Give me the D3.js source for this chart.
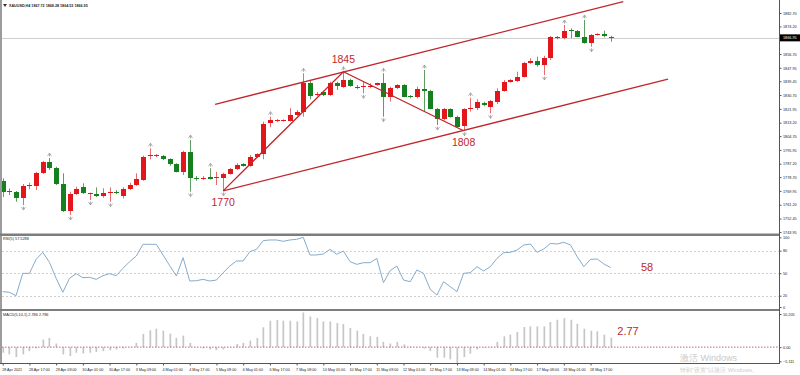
<!DOCTYPE html>
<html><head><meta charset="utf-8">
<script src="https://cdn.jsdelivr.net/npm/d3@7"></script>
<style>
html,body{margin:0;padding:0;background:#fff;overflow:hidden}
svg{display:block}
text{font-family:"Liberation Sans",Arial,sans-serif}
</style>
</head><body>
<svg id="c" width="800" height="375"></svg>
<script>
// ---------------- DATA ----------------
const symbolHeader = "XAUUSD,H4 1867.72 1868.28 1864.53 1866.95";
const opens  = [1776.4,1769.6,1769.1,1765.7,1773.5,1773.1,1781.1,1788.5,1784.7,1774.2,1757.2,1767.8,1772.2,1768.3,1768.0,1766.9,1768.4,1769.5,1766.9,1771.0,1773.7,1776.9,1792.2,1792.2,1792.1,1790.0,1786.8,1782.1,1794.4,1778.0,1778.2,1778.6,1778.1,1777.9,1780.7,1783.6,1786.8,1785.9,1791.6,1793.2,1812.8,1814.3,1814.3,1814.5,1818.1,1820.2,1838.2,1831.2,1832.5,1830.7,1838.5,1836.0,1840.2,1836.1,1835.6,1836.5,1837.1,1838.2,1829.7,1835.0,1837.1,1830.1,1829.3,1834.5,1833.5,1822.0,1815.3,1821.7,1817.0,1811.1,1821.7,1822.3,1825.9,1823.3,1826.5,1833.5,1839.0,1839.4,1842.3,1851.2,1852.5,1849.8,1854.0,1867.4,1866.7,1871.9,1871.3,1867.7,1863.9,1868.8,1869.6,1867.72];
const highs  = [1777.9,1771.5,1769.9,1774.3,1775.2,1782.1,1789.0,1790.8,1785.3,1781.1,1769.5,1772.6,1774.8,1768.9,1772.2,1771.6,1772.2,1770.5,1772.2,1775.2,1781.1,1792.3,1797.0,1793.3,1792.8,1790.6,1787.5,1795.4,1802.2,1779.4,1779.4,1784.3,1782.1,1781.5,1784.5,1787.5,1787.5,1792.7,1793.8,1813.8,1817.0,1815.5,1815.3,1822.3,1821.2,1844.5,1840.2,1832.6,1833.1,1839.2,1839.2,1845.5,1841.0,1837.1,1839.2,1838.2,1838.5,1844.5,1836.0,1837.6,1837.6,1830.7,1836.0,1846.6,1834.0,1822.5,1822.6,1822.3,1817.6,1822.3,1829.0,1828.0,1826.5,1827.6,1835.0,1840.2,1840.8,1845.5,1851.8,1854.0,1855.0,1855.6,1868.1,1868.1,1875.1,1873.0,1871.9,1878.3,1869.4,1869.9,1871.5,1868.28];
const lows   = [1766.1,1767.4,1763.1,1761.0,1771.0,1770.5,1780.7,1783.2,1773.7,1756.6,1754.7,1767.4,1768.0,1764.2,1766.1,1765.7,1763.1,1768.0,1765.2,1770.5,1773.1,1776.4,1790.0,1791.3,1789.5,1785.9,1781.7,1780.0,1769.5,1776.4,1776.9,1777.2,1773.7,1770.0,1780.2,1783.2,1785.3,1785.3,1791.0,1790.0,1810.3,1813.6,1813.9,1813.9,1817.4,1817.0,1828.0,1830.1,1830.1,1830.1,1833.9,1835.3,1836.0,1834.4,1831.8,1835.0,1836.6,1817.0,1826.5,1834.5,1829.3,1828.7,1828.6,1820.2,1821.7,1811.7,1814.6,1816.5,1810.0,1808.1,1820.2,1821.2,1823.6,1819.1,1825.0,1832.8,1838.5,1839.0,1841.9,1850.4,1848.7,1843.4,1852.9,1866.0,1866.0,1866.7,1867.3,1863.3,1861.3,1868.5,1867.3,1864.53];
const closes = [1769.5,1769.4,1765.7,1773.3,1773.8,1781.1,1788.5,1784.7,1774.2,1757.2,1767.8,1771.2,1768.4,1768.6,1766.7,1768.7,1769.3,1768.8,1771.2,1773.7,1777.3,1791.6,1792.5,1792.6,1790.0,1786.8,1782.1,1794.4,1778.0,1777.9,1778.4,1777.7,1778.5,1780.7,1783.8,1786.4,1785.9,1791.6,1793.2,1812.4,1814.9,1814.6,1814.6,1818.1,1820.2,1838.2,1830.1,1831.5,1830.7,1838.5,1836.6,1840.2,1836.6,1835.9,1836.4,1836.7,1838.2,1829.7,1835.0,1837.1,1829.7,1829.3,1834.5,1833.5,1822.0,1815.3,1822.0,1817.0,1810.6,1821.7,1822.3,1826.5,1824.2,1826.9,1833.5,1839.2,1840.2,1842.3,1851.2,1852.5,1849.9,1854.0,1867.3,1867.1,1871.5,1871.3,1867.7,1863.9,1868.8,1869.4,1868.1,1866.95];
const fractalUp   = [7,22,28,31,40,45,51,57,63,70,84,87];
const fractalDown = [3,10,13,16,28,33,54,57,65,69,73,81,88];
const rsiValues = [25.4,24.5,20.0,49.8,49.8,68.5,77.8,64.5,43.2,24.5,43.2,49.4,44.0,44.5,41.8,46.7,49.4,46.7,56.5,65.4,72.9,88.5,88.5,88.5,74.3,60.0,46.3,70.7,39.6,40.0,41.8,39.6,40.9,50.7,59.6,66.3,66.3,78.7,81.8,93.4,94.3,94.3,92.5,94.3,95.2,97.8,74.3,74.3,75.6,81.8,75.2,79.6,65.4,61.8,64.0,64.0,69.8,37.4,53.4,59.6,40.9,38.7,54.3,49.8,28.5,20.9,38.7,32.0,25.4,49.8,50.7,58.7,52.9,58.7,69.8,77.4,77.8,80.9,87.6,88.9,77.8,82.3,89.8,88.9,91.2,87.6,72.0,58.7,68.5,68.9,62.3,57.53];
const macdValues = [-1.65,-2.14,-2.92,-2.14,-1.17,-0.39,2.24,2.72,1.07,-2.14,-2.62,-1.65,-1.85,-1.65,-1.46,-1.17,-0.97,-0.68,-0.39,0.10,1.26,3.89,4.96,5.44,4.86,3.98,2.72,3.40,1.26,0.05,-0.39,-0.68,-0.87,-0.68,0.05,0.97,1.26,1.94,2.72,5.83,7.77,7.97,7.77,7.77,7.58,10.205,9.04,8.55,7.58,7.58,7.09,6.80,5.64,4.86,3.89,3.21,3.01,1.55,1.07,1.55,0.8,0.2,0.1,-0.4,-1.17,-3.11,-3.11,-3.60,-5.111,-2.92,-1.94,-0.68,-0.19,0.1,1.55,3.21,3.69,4.47,5.93,6.12,6.12,6.12,7.39,8.07,8.55,8.07,6.90,5.44,4.86,4.66,3.69,2.786];
const priceTicks = [1882.70,1874.20,1856.70,1847.95,1839.45,1830.70,1821.95,1813.20,1804.70,1795.95,1787.20,1778.70,1769.95,1761.20,1752.45,1743.95];
const currentPrice = 1866.95;
const rsiLevels = [80,50,20];
const rsiTicks = [100,80,50,20,0];
const macdTicks = [10.205,0,-5.111];
const timeTickIdx = [0,4,8,12,16,20,24,28,32,36,40,44,48,52,56,60,64,68,72,76,80,84,88];
const timeLabels = ["28 Apr 2021","28 Apr 17:00","29 Apr 09:00","30 Apr 01:00","30 Apr 17:00","3 May 09:00","4 May 01:00","4 May 17:00","5 May 09:00","6 May 01:00","6 May 17:00","7 May 09:00","10 May 01:00","10 May 17:00","11 May 09:00","12 May 01:00","12 May 17:00","13 May 09:00","14 May 01:00","14 May 17:00","17 May 09:00","18 May 01:00","18 May 17:00"];
// zigzag swing points [bar index, price]
const zigzag = [[33,1770.0],[51,1845.5],[69,1808.1]];
const channelUpper = [[31.8,1824.84],[92.9,1889.86]];
const channelLower = [[33,1770.0],[99.6,1840.87]];
const swingLabels = [{t:"1770",i:33,p:1770.0,pos:"below"},{t:"1845",i:51,p:1845.5,pos:"above"},{t:"1808",i:69,p:1808.1,pos:"below"}];
const rsiNote = "58", macdNote = "2.77";

// ---------------- DRAW ----------------
const RED = "#e3161c", GREEN = "#17801e", LINE = "#c0272d";
const FS = 3.8; // tiny platform font
const svg = d3.select("#c");
const AX = 779.5;
const x  = d3.scaleLinear().domain([0,91]).range([2.7, 2.7 + 91*6.68]);
const yP = d3.scaleLinear().domain([1743.95,1882.70]).range([231.95,13]);
const yR = d3.scaleLinear().domain([0,100]).range([310.7,235.7]);
const yM = d3.scaleLinear().domain([-5.111,10.205]).range([364.5,312.5]);

const defs = svg.append("defs");
defs.append("clipPath").attr("id","cm").append("rect").attr("x",2).attr("y",0).attr("width",AX-2).attr("height",233.5);
defs.append("clipPath").attr("id","cr").append("rect").attr("x",2).attr("y",236).attr("width",AX-2).attr("height",73);
defs.append("clipPath").attr("id","cd").append("rect").attr("x",2).attr("y",311).attr("width",AX-2).attr("height",52.5);

svg.append("rect").attr("width",800).attr("height",375).attr("fill","#fff");

// current price line
svg.append("line").attr("x1",2).attr("x2",AX).attr("y1",Math.round(yP(currentPrice))+0.5).attr("y2",Math.round(yP(currentPrice))+0.5)
  .attr("stroke","#cfcfcf").attr("stroke-width",1);

// candles
const gm = svg.append("g").attr("clip-path","url(#cm)");
const bars = opens.map((o,i)=>({i,o,h:highs[i],l:lows[i],c:closes[i]}));
const cg = gm.selectAll("g.candle").data(bars).join("g").attr("class","candle");
cg.each(function(d){
  const g = d3.select(this);
  const up = d.c >= d.o;
  const col = up ? RED : GREEN;
  const wcol = up ? "#e86a6e" : "#5e9e62";
  const cx = Math.round(x(d.i)) + 0.5;
  g.append("line").attr("x1",cx).attr("x2",cx).attr("y1",yP(d.h)).attr("y2",yP(d.l)).attr("stroke",wcol).attr("stroke-width",1);
  const top = Math.round(yP(Math.max(d.o,d.c))), bot = Math.round(yP(Math.min(d.o,d.c)));
  const hgt = Math.max(1, bot-top);
  g.append("rect").attr("x",cx-2.5).attr("y",top).attr("width",5).attr("height",hgt).attr("fill",col);
});

// fractals
gm.selectAll("path.fu").data(fractalUp).join("path").attr("class","fu")
  .attr("d",i=>{const cx=Math.round(x(i))+0.5, y=yP(highs[i])-2; return `M${cx-2},${y} L${cx},${y-3} L${cx+2},${y} M${cx},${y-3} L${cx},${y+0.5}`;})
  .attr("fill","none").attr("stroke","#9a9a9a").attr("stroke-width",0.8);
gm.selectAll("path.fd").data(fractalDown).join("path").attr("class","fd")
  .attr("d",i=>{const cx=Math.round(x(i))+0.5, y=yP(lows[i])+2; return `M${cx-2},${y} L${cx},${y+3} L${cx+2},${y} M${cx},${y+3} L${cx},${y-0.5}`;})
  .attr("fill","none").attr("stroke","#9a9a9a").attr("stroke-width",0.8);

// trend lines
const ln = d3.line().x(d=>x(d[0])).y(d=>yP(d[1]));
[zigzag, channelUpper, channelLower].forEach(pts=>{
  gm.append("path").attr("d",ln(pts)).attr("fill","none").attr("stroke",LINE).attr("stroke-width",1.3);
});
swingLabels.forEach(s=>{
  svg.append("text").attr("x",x(s.i)).attr("y", s.pos==="above" ? yP(s.p)-9 : yP(s.p)+15)
    .attr("text-anchor","middle").attr("font-size",10.5).attr("fill",LINE).text(s.t);
});

// header
svg.append("path").attr("d","M3,4 L7,4 L5,7 Z").attr("fill","#333");
svg.append("text").attr("x",9).attr("y",6.8).attr("font-size",3.7).attr("font-weight","bold").attr("fill","#222").text(symbolHeader);

// RSI panel
const gr = svg.append("g");
gr.selectAll("line.lv").data(rsiLevels).join("line").attr("class","lv")
  .attr("x1",2).attr("x2",AX).attr("y1",d=>Math.round(yR(d))+0.5).attr("y2",d=>Math.round(yR(d))+0.5)
  .attr("stroke","#c4c4c4").attr("stroke-width",0.8).attr("stroke-dasharray","2,2");
gr.append("path").attr("clip-path","url(#cr)")
  .attr("d", d3.line().x((d,i)=>x(i)).y(d=>yR(d))(rsiValues))
  .attr("fill","none").attr("stroke","#86abcb").attr("stroke-width",1);
gr.append("text").attr("x",3).attr("y",240.3).attr("font-size",FS).attr("fill","#222").text("RSI(5) 57.5288");
svg.append("text").attr("x",647).attr("y",271).attr("text-anchor","middle").attr("font-size",11).attr("fill",LINE).text(rsiNote);

// MACD panel
const gd = svg.append("g").attr("clip-path","url(#cd)");
gd.selectAll("rect").data(macdValues).join("rect")
  .attr("x",(d,i)=>Math.round(x(i))-0.5).attr("width",1.7)
  .attr("y",d=>Math.min(yM(d),yM(0))).attr("height",d=>Math.abs(yM(d)-yM(0)))
  .attr("fill","#c6c6c6");
svg.append("line").attr("x1",2).attr("x2",AX).attr("y1",yM(0)).attr("y2",yM(0))
  .attr("stroke","#b0406a").attr("stroke-width",0.8).attr("stroke-dasharray","1.5,1.5");
svg.append("text").attr("x",3).attr("y",316.3).attr("font-size",FS).attr("fill","#222").text("MACD(5,10,1) 2.786 2.786");
svg.append("text").attr("x",628).attr("y",335).attr("text-anchor","middle").attr("font-size",11).attr("fill",LINE).text(macdNote);

// frames / separators
svg.append("rect").attr("x",0).attr("y",0).attr("width",2).attr("height",364).attr("fill","#9c9c9c");
svg.append("rect").attr("x",0).attr("y",233.5).attr("width",AX).attr("height",2.5).attr("fill","#7d7d7d");
svg.append("rect").attr("x",0).attr("y",309).attr("width",AX).attr("height",2).attr("fill","#7d7d7d");

// axes
const fmt2 = d3.format(".2f");
const axP = svg.append("g").attr("transform",`translate(${AX},0)`)
  .call(d3.axisRight(yP).tickValues(priceTicks).tickFormat(fmt2).tickSize(2).tickPadding(1.5));
axP.select(".domain").attr("d","M0,0V364").attr("stroke","#555");
const axR = svg.append("g").attr("transform",`translate(${AX},0)`)
  .call(d3.axisRight(yR).tickValues(rsiTicks).tickFormat(d3.format("d")).tickSize(2).tickPadding(1.5));
axR.select(".domain").remove();
axR.selectAll(".tick").filter(d=>d===100).attr("transform","translate(0,237.8)");
axR.selectAll(".tick").filter(d=>d===0).attr("transform","translate(0,307.5)");
const axM = svg.append("g").attr("transform",`translate(${AX},0)`)
  .call(d3.axisRight(yM).tickValues(macdTicks).tickFormat(d=>d===0?"0.00":d3.format(".3f")(d)).tickSize(2).tickPadding(1.5));
axM.select(".domain").remove();
axM.selectAll(".tick").filter(d=>d>10).attr("transform","translate(0,314.5)");
axM.selectAll(".tick").filter(d=>d<-5).attr("transform","translate(0,361.8)");
[axP,axR,axM].forEach(a=>{
  a.selectAll("text").attr("font-size",FS).attr("fill","#222").attr("font-family","'Liberation Sans',Arial,sans-serif");
  a.selectAll(".tick line").attr("stroke","#555");
});
// current price tag
const cy = yP(currentPrice);
svg.append("rect").attr("x",AX+0.5).attr("y",cy-3.5).attr("width",20).attr("height",7).attr("fill","#000");
svg.append("text").attr("x",AX+3.5).attr("y",cy+1.4).attr("font-size",FS).attr("fill","#fff").text(fmt2(currentPrice));

// time axis
const axT = svg.append("g").attr("transform","translate(0,363.5)")
  .call(d3.axisBottom(x).tickValues(timeTickIdx).tickFormat((d,i)=>timeLabels[i]).tickSize(2).tickPadding(2.5));
axT.select(".domain").attr("d",`M0,0H${AX}`).attr("stroke","#555");
axT.selectAll(".tick line").attr("stroke","#555");
axT.selectAll("text").attr("text-anchor","start").attr("font-size",3.7).attr("fill","#222")
  .attr("font-family","'Liberation Sans',Arial,sans-serif").attr("dx",-1);

// Windows activation watermark
svg.append("text").attr("x",680).attr("y",361).attr("font-size",9).attr("fill","#c9c9c9")
  .attr("font-family","'Noto Sans CJK SC',sans-serif").text("激活 Windows");
svg.append("text").attr("x",680).attr("y",371.5).attr("font-size",6).attr("fill","#cdcdcd")
  .attr("font-family","'Noto Sans CJK SC',sans-serif").text("转到“设置”以激活 Windows。");
</script>
</body></html>
